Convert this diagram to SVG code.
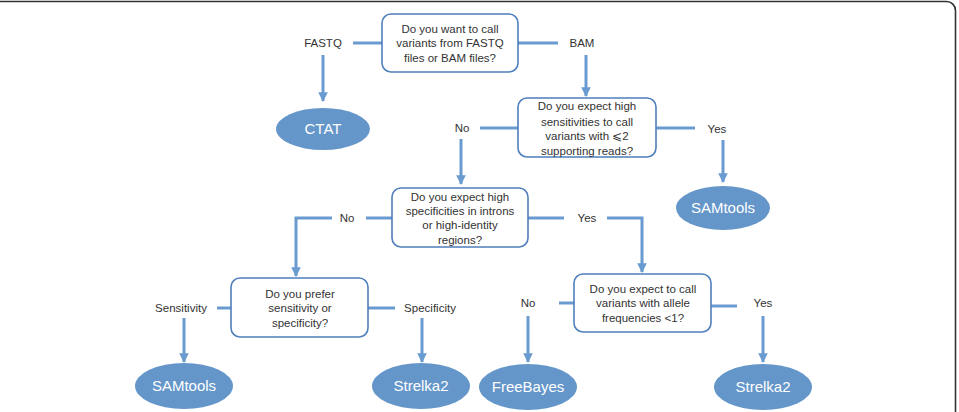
<svg xmlns="http://www.w3.org/2000/svg" width="959" height="412" viewBox="0 0 959 412">
<defs>
<marker id="ah" viewBox="0 0 10 10" refX="9" refY="5" markerWidth="3.2" markerHeight="3.2" orient="auto" markerUnits="strokeWidth">
<path d="M0,0 L10,5 L0,10 z" fill="#6a9bd0"/>
</marker>
<style>
.q{fill:#fff;stroke:#4f7fbc;stroke-width:1.6}
.e{fill:#6496c9}
.t{font-family:"Liberation Sans",Arial,sans-serif;font-size:11.5px;fill:#333;text-anchor:middle}
.et{font-family:"Liberation Sans",Arial,sans-serif;font-size:15px;fill:#fff;text-anchor:middle}
.c{fill:none;stroke:#6a9bd0;stroke-width:3}
.a{marker-end:url(#ah)}
</style>
</defs>
<rect x="-10" y="1.5" width="965.5" height="430" rx="9" fill="#fff" stroke="#333" stroke-width="1.6"/>
<g id="connectors">
<path class="c" d="M353,43 H382"/>
<path class="c" d="M518,43 H558"/>
<path class="c a" d="M323,55 V101"/>
<path class="c a" d="M586,55 V96"/>
<path class="c" d="M480,128 H518"/>
<path class="c" d="M656,128 H695"/>
<path class="c a" d="M461,139 V184"/>
<path class="c a" d="M723,140 V182"/>
<path class="c" d="M366,218 H392"/>
<path class="c a" d="M332,218 H296 V276"/>
<path class="c" d="M528,218 H564"/>
<path class="c a" d="M607,218 H642 V272"/>
<path class="c" d="M217,308 H231"/>
<path class="c" d="M368,308 H395"/>
<path class="c a" d="M184,318 V362"/>
<path class="c a" d="M422,318 V362"/>
<path class="c" d="M559,303 H574"/>
<path class="c" d="M711,306 H737"/>
<path class="c a" d="M528,316 V362"/>
<path class="c a" d="M763,316 V362"/>
</g>
<g id="labels">
<text class="t" x="323" y="47">FASTQ</text>
<text class="t" x="582" y="47">BAM</text>
<text class="t" x="462" y="132">No</text>
<text class="t" x="717" y="133">Yes</text>
<text class="t" x="347" y="222">No</text>
<text class="t" x="587" y="222">Yes</text>
<text class="t" x="181" y="312">Sensitivity</text>
<text class="t" x="430" y="312">Specificity</text>
<text class="t" x="528" y="307">No</text>
<text class="t" x="763" y="307">Yes</text>
</g>
<g id="q1">
<rect class="q" x="382" y="14" width="136" height="58" rx="9"/>
<text class="t" x="450" y="33">Do you want to call</text>
<text class="t" x="450" y="47">variants from FASTQ</text>
<text class="t" x="450" y="62">files or BAM files?</text>
</g>
<g id="q2">
<rect class="q" x="518" y="98" width="138" height="59" rx="9"/>
<text class="t" x="587" y="110">Do you expect high</text>
<text class="t" x="587" y="126">sensitivities to call</text>
<text class="t" x="587" y="140">variants with ⩽2</text>
<text class="t" x="587" y="155">supporting reads?</text>
</g>
<g id="q3">
<rect class="q" x="392" y="188" width="136" height="59" rx="9"/>
<text class="t" x="460" y="201">Do you expect high</text>
<text class="t" x="460" y="215">specificities in introns</text>
<text class="t" x="460" y="229">or high-identity</text>
<text class="t" x="460" y="244">regions?</text>
</g>
<g id="q4">
<rect class="q" x="231" y="278" width="137" height="59" rx="9"/>
<text class="t" x="300" y="298">Do you prefer</text>
<text class="t" x="300" y="312">sensitivity or</text>
<text class="t" x="300" y="327">specificity?</text>
</g>
<g id="q5">
<rect class="q" x="574" y="274" width="137" height="58" rx="9"/>
<text class="t" x="643" y="293">Do you expect to call</text>
<text class="t" x="643" y="307">variants with allele</text>
<text class="t" x="643" y="322">frequencies &lt;1?</text>
</g>
<g id="ctat">
<ellipse class="e" cx="323" cy="129" rx="47" ry="21"/>
<text class="et" x="323" y="134">CTAT</text>
</g>
<g id="samtools1">
<ellipse class="e" cx="723" cy="208" rx="47" ry="22"/>
<text class="et" x="723" y="213">SAMtools</text>
</g>
<g id="samtools2">
<ellipse class="e" cx="184" cy="386" rx="49" ry="23"/>
<text class="et" x="184" y="391">SAMtools</text>
</g>
<g id="strelka2a">
<ellipse class="e" cx="421" cy="386" rx="49" ry="23"/>
<text class="et" x="421" y="391">Strelka2</text>
</g>
<g id="freebayes">
<ellipse class="e" cx="528" cy="387" rx="49" ry="23"/>
<text class="et" x="528" y="392">FreeBayes</text>
</g>
<g id="strelka2b">
<ellipse class="e" cx="763" cy="387" rx="49" ry="23"/>
<text class="et" x="763" y="392">Strelka2</text>
</g>
</svg>
